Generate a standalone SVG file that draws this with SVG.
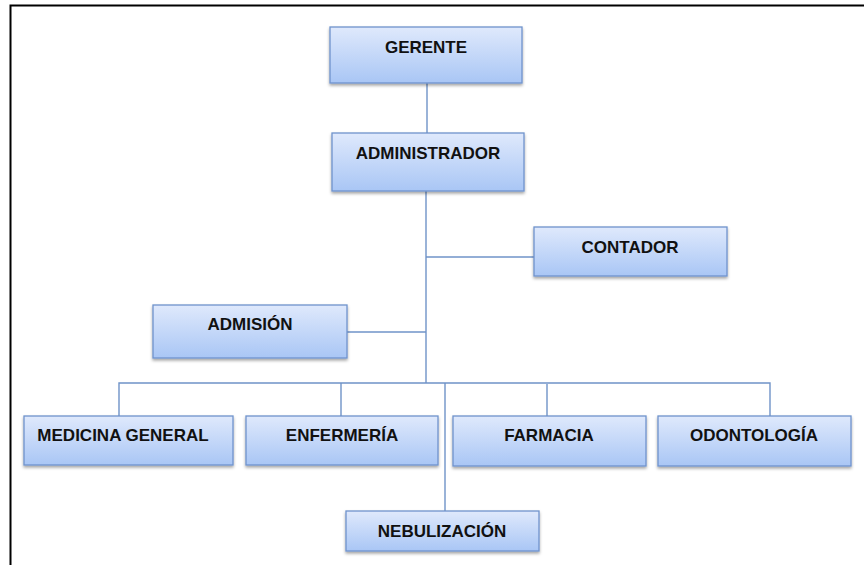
<svg xmlns="http://www.w3.org/2000/svg" width="864" height="565" viewBox="0 0 864 565">
<style>
.box{fill:url(#g);stroke:#6f93cc;stroke-width:1.3;filter:url(#sh)}
.lbl{font-family:"Liberation Sans",Arial,sans-serif;font-weight:bold;font-size:17px;fill:#111;text-anchor:middle;dominant-baseline:central}
.ln{stroke:#6f93c8;stroke-width:1.4;fill:none}
</style>
<defs>
<linearGradient id="g" x1="0" y1="0" x2="0" y2="1">
<stop offset="0" stop-color="#dfe9fc"/>
<stop offset="1" stop-color="#a9c6f5"/>
</linearGradient>
<filter id="sh" x="-10%" y="-20%" width="120%" height="150%">
<feDropShadow dx="0" dy="2" stdDeviation="1.5" flood-color="#000" flood-opacity="0.35"/>
</filter>
</defs>
<rect x="0" y="0" width="864" height="565" fill="#fff"/>
<rect x="10.5" y="5.5" width="870" height="580" fill="none" stroke="#000" stroke-width="2"/>
<g id="connectors">
<path class="ln" d="M427 83 V133"/>
<path class="ln" d="M426 191 V383"/>
<path class="ln" d="M426 257 H534"/>
<path class="ln" d="M347 332 H426"/>
<path class="ln" d="M119 416 V383 H770 V416"/>
<path class="ln" d="M341 383 V416"/>
<path class="ln" d="M547 384 V416"/>
<path class="ln" d="M445 383 V511"/>
</g>
<g id="gerente"><rect class="box" x="330" y="27" width="192" height="56"/><text class="lbl" x="426" y="47">GERENTE</text></g>
<g id="administrador"><rect class="box" x="332" y="133" width="192" height="58"/><text class="lbl" x="428" y="153">ADMINISTRADOR</text></g>
<g id="contador"><rect class="box" x="534" y="227" width="193" height="49"/><text class="lbl" x="630" y="247">CONTADOR</text></g>
<g id="admision"><rect class="box" x="153" y="305" width="194" height="53"/><text class="lbl" x="250" y="324">ADMISIÓN</text></g>
<g id="medicina"><rect class="box" x="24" y="416" width="209" height="49"/><text class="lbl" x="123" y="435">MEDICINA GENERAL</text></g>
<g id="enfermeria"><rect class="box" x="246" y="416" width="192" height="49"/><text class="lbl" x="342" y="435">ENFERMERÍA</text></g>
<g id="farmacia"><rect class="box" x="453" y="416" width="193" height="50"/><text class="lbl" x="549" y="435">FARMACIA</text></g>
<g id="odontologia"><rect class="box" x="658" y="416" width="193" height="50"/><text class="lbl" x="754" y="435">ODONTOLOGÍA</text></g>
<g id="nebulizacion"><rect class="box" x="346" y="511" width="193" height="40"/><text class="lbl" x="442" y="531">NEBULIZACIÓN</text></g>
</svg>
